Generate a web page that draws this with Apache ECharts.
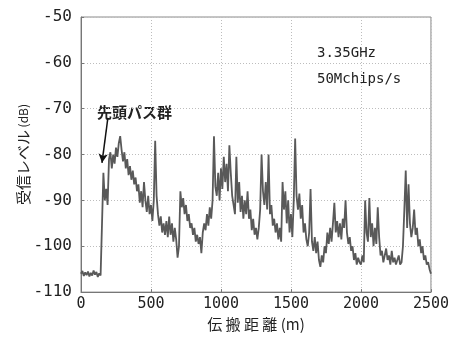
<!DOCTYPE html>
<html>
<head>
<meta charset="utf-8">
<script src="https://cdn.jsdelivr.net/npm/echarts@6/dist/echarts.min.js"></script>
<style>
  html, body { margin: 0; padding: 0; background: #fff; }
  #chart { width: 452px; height: 337px; }
</style>
</head>
<body>
<div id="chart"></div>
<script>
// 伝搬距離 (m) : 10 m step, 0 .. 2500
var distStep = 10;
// 受信レベル (dB)
var level = [
  -106, -105.4, -106.5, -105.7, -106.3, -105.5, -106.6, -105.8, -106.4, -105.3,
  -106.2, -105.6, -106.7, -105.9, -106.4, -106.8, -84, -90, -87.5, -91,
  -81, -79.5, -83, -80, -82, -78.5, -80.5, -77.5, -76, -79,
  -81.5, -79.5, -83, -81, -84.5, -82.5, -85.5, -83.5, -86.5, -85,
  -88, -86.5, -90.5, -88, -91.5, -86, -90, -92.5, -89, -93,
  -91, -94.5, -90, -77, -89, -93, -95.5, -93.5, -97, -95,
  -97.5, -94.5, -98, -93.5, -97.5, -95, -99, -96, -98.5, -102.5,
  -100, -88, -91.5, -89.5, -93, -91, -94.5, -93, -96, -95,
  -97.5, -96, -99, -97.5, -99.5, -98, -101.5, -97, -95, -96.5,
  -93, -95.5, -91.5, -94, -90, -76, -87, -89, -84, -90,
  -83, -87.5, -80.5, -86, -82, -88, -78, -84, -89, -91,
  -93, -80.5, -90.5, -86, -92.5, -89, -94, -90, -93, -88,
  -94, -92, -96.5, -94, -97.5, -96, -98.5, -96, -92, -80,
  -88, -91, -86, -92, -80, -93, -91, -95.5, -94, -97,
  -95, -98.5, -96, -99, -86, -92, -88, -95, -90, -97,
  -93, -98, -90, -76.5, -89, -92, -88.5, -94, -91, -97,
  -95, -98.5, -100, -97, -87.5, -99, -101, -98, -101.5, -99,
  -103, -104.5, -102, -103.5, -100, -101.5, -97, -99.5, -96, -99,
  -95, -90.5, -97, -94.5, -98, -95, -98.5, -94, -96, -90,
  -97, -99.5, -98, -101, -100, -103, -101.5, -104, -102.5, -103.5,
  -104, -102, -103.5, -90, -97, -99, -89.5, -98, -95, -100,
  -96, -99.5, -91.5, -98, -102, -101, -103.5, -102, -100.5, -103,
  -102, -104, -101, -103.5, -102.5, -104, -103, -102, -104, -103.5,
  -100, -92, -83.5, -96, -86.5, -95, -98, -96, -92, -97.5,
  -96, -100, -98.5, -101.5, -100, -103, -102, -104, -103.5, -105,
  -106
];
// annotation arrow: from label down to first path group
var arrowFrom = [192, -72];
var arrowTo = [150, -81.8];

var points = level.map(function (v, i) { return [i * distStep, v]; });

var chart = echarts.init(document.getElementById('chart'), null, { renderer: 'canvas' });
var monoFont = 'DejaVu Sans Mono';
var cjkFont = '"Noto Sans CJK JP", "Noto Sans", sans-serif';
var gridDots = { color: '#bdbdbd', type: [1, 2], width: 1 };

chart.setOption({
  animation: false,
  backgroundColor: '#ffffff',
  grid: {
    left: 81, right: 20, top: 17, bottom: 39,
    show: true, borderColor: '#8a8a8a', borderWidth: 1
  },
  xAxis: {
    type: 'value',
    min: 0, max: 2500, interval: 500,
    name: '伝 搬 距 離 (m)',
    nameLocation: 'middle',
    nameGap: 23,
    nameTextStyle: { fontFamily: cjkFont, fontSize: 15, color: '#222' },
    axisLine: { lineStyle: { color: '#777', width: 1 } },
    axisTick: { inside: true, length: 3, lineStyle: { color: '#777' } },
    axisLabel: {
      fontFamily: monoFont, fontSize: 15, color: '#222', margin: 5,
      formatter: function (v) { return String(v); }
    },
    splitLine: { show: true, lineStyle: gridDots }
  },
  yAxis: {
    type: 'value',
    min: -110, max: -50, interval: 10,
    name: '{a|受信レベル}{b| (dB)}',
    nameLocation: 'middle',
    nameGap: 50,
    nameMoveOverlap: false,
    nameRotate: 90,
    nameTextStyle: {
      rich: {
        a: { fontFamily: cjkFont, fontSize: 15, color: '#222' },
        b: { fontFamily: cjkFont, fontSize: 12, color: '#222' }
      }
    },
    axisLine: { show: true, lineStyle: { color: '#777', width: 1 } },
    axisTick: { show: true, inside: true, length: 3, lineStyle: { color: '#777' } },
    axisLabel: {
      fontFamily: monoFont, fontSize: 16, color: '#222', margin: 9,
      formatter: function (v) { return String(v); }
    },
    splitLine: { show: true, lineStyle: gridDots }
  },
  series: [{
    type: 'line',
    data: points,
    showSymbol: false,
    lineStyle: { color: '#595959', width: 1.8 },
    markLine: {
      silent: true,
      symbol: ['none', 'arrow'],
      symbolSize: [7, 9],
      label: { show: false },
      lineStyle: { color: '#111', width: 1.5, type: 'solid' },
      data: [[{ coord: arrowFrom }, { coord: arrowTo }]]
    }
  }],
  graphic: [
    {
      type: 'text', left: 97, top: 105,
      style: { text: '先頭パス群', font: '600 15px ' + cjkFont, fill: '#222' }
    },
    {
      type: 'text', left: 317, top: 46,
      style: { text: '3.35GHz', font: '14px ' + monoFont, fill: '#222' }
    },
    {
      type: 'text', left: 317, top: 72,
      style: { text: '50Mchips/s', font: '14px ' + monoFont, fill: '#222' }
    }
  ]
});
</script>
</body>
</html>
